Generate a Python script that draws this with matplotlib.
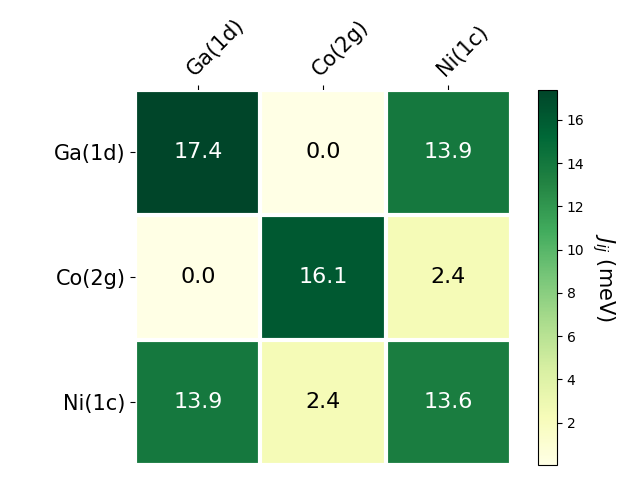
import numpy as np
import matplotlib
matplotlib.use("Agg")
import matplotlib.pyplot as plt

sites = ["Ga(1d)", "Co(2g)", "Ni(1c)"]
J = np.array([[17.4, 0.04, 13.9],
              [0.04, 16.1, 2.4],
              [13.9, 2.4, 13.6]])

fig, ax = plt.subplots(figsize=(6.4, 4.8), dpi=100)
im = ax.imshow(J, cmap="YlGn")
cbar = ax.figure.colorbar(im, ax=ax)
cbar.ax.set_ylabel(r"$J_{ij}$ (meV)", rotation=-90, va="bottom", fontsize=15)

ax.set_xticks(np.arange(len(sites)), labels=sites, fontsize=15)
ax.set_yticks(np.arange(len(sites)), labels=sites, fontsize=15)
ax.tick_params(top=True, bottom=False, labeltop=True, labelbottom=False)
plt.setp(ax.get_xticklabels(), rotation=45, ha="left", rotation_mode="anchor")

ax.spines[:].set_visible(False)
ax.set_xticks(np.arange(J.shape[1] + 1) - .5, minor=True)
ax.set_yticks(np.arange(J.shape[0] + 1) - .5, minor=True)
ax.grid(which="minor", color="w", linestyle="-", linewidth=3)
ax.tick_params(which="minor", bottom=False, left=False, top=False)

thr = im.norm(J.max()) / 2.
for i in range(J.shape[0]):
    for j in range(J.shape[1]):
        c = "white" if im.norm(J[i, j]) > thr else "black"
        ax.text(j, i, f"{J[i, j]:.1f}", ha="center", va="center", color=c, fontsize=16)

fig.tight_layout()
fig.savefig("out.png")
